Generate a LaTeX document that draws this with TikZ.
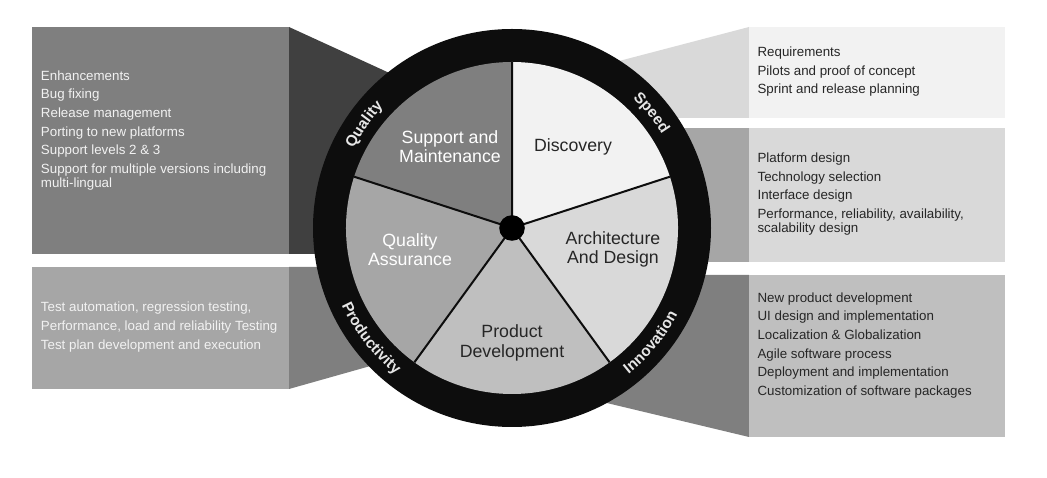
\documentclass[tikz,border=0pt]{standalone}
\usepackage{fontspec}
\setmainfont{Liberation Sans}
\usepackage{tikz}
\usetikzlibrary{decorations.text}
\definecolor{gray25}{HTML}{404040}
\definecolor{gray50}{HTML}{7F7F7F}
\definecolor{gray65}{HTML}{A6A6A6}
\definecolor{gray75}{HTML}{BFBFBF}
\definecolor{gray85}{HTML}{D9D9D9}
\definecolor{gray95}{HTML}{F2F2F2}
\definecolor{ringblack}{HTML}{0D0D0D}
\definecolor{ringgray}{HTML}{E6E6E6}
\definecolor{textdark}{HTML}{262626}
\newcommand{\ringfont}{\bfseries\fontsize{11.5}{13}\selectfont}

\begin{document}
\begin{tikzpicture}[
    x=0.75pt, y=0.75pt,
    lightlist/.style={anchor=west, align=left, inner sep=0pt, text=gray95,
                font=\fontsize{10}{10.7}\selectfont},
    darklist/.style={lightlist, text=textdark},
    seclabel/.style={align=center, inner sep=0pt,
                font=\fontsize{13.3}{14.4}\selectfont},
    divider/.style={draw=ringblack, line width=1.5pt},
    ringlabel/.style={decorate, decoration={text along path, text align=center,
                text color=ringgray, text={|\ringfont|#1}}}
]
\useasboundingbox (0,0) rectangle (1047,478);
\coordinate (C) at (512,250);

% funnels behind the wheel
\fill[gray25] (289,451) -- (420,391) -- (420,224) -- (289,224) -- cycle;
\fill[gray50] (289,211) -- (420,211) -- (420,126) -- (289,89) -- cycle;
\fill[gray85] (749,451) -- (600,412) -- (600,360) -- (749,360) -- cycle;
\fill[gray65] (650,216) rectangle (749,350);
\fill[gray50] (749,203) -- (600,203) -- (590,79) -- (749,41) -- cycle;

% panels
\fill[gray50] (32,224) rectangle (289,451);
\fill[gray65] (32,89) rectangle (289,211);
\fill[gray95] (749,360) rectangle (1005,451);
\fill[gray85] (749,216) rectangle (1005,350);
\fill[gray75] (749,41) rectangle (1005,203);

% wheel
\fill[ringblack] (C) circle[radius=199];
\fill[gray50] (C) -- ++(90:166) arc[start angle=90, end angle=162, radius=166] -- cycle;
\fill[gray65] (C) -- ++(162:166) arc[start angle=162, end angle=234, radius=166] -- cycle;
\fill[gray75] (C) -- ++(234:166) arc[start angle=234, end angle=306, radius=166] -- cycle;
\fill[gray85] (C) -- ++(306:166) arc[start angle=306, end angle=378, radius=166] -- cycle;
\fill[gray95] (C) -- ++(18:166) arc[start angle=18, end angle=90, radius=166] -- cycle;
\draw[divider] (C) -- ++(90:166) (C) -- ++(162:166) (C) -- ++(234:166)
    (C) -- ++(306:166) (C) -- ++(18:166);
\node[circle, fill=black, inner sep=0pt, minimum size=19.2pt] (hub) at (C) {};

% sector labels
\node[seclabel, text=white] (support) at (450,331) {Support and\\Maintenance};
\node[seclabel, text=textdark] (discovery) at (573,331) {Discovery};
\node[seclabel, text=white] (qa) at (410,228.5) {Quality\\Assurance};
\node[seclabel, text=textdark] (arch) at (613,228.5) {Architecture\\And Design};
\node[seclabel, text=textdark] (product) at (512,135) {Product\\Development};

% ring labels
\path[ringlabel=Quality, shift={(C)}] (170:177) arc[start angle=170, end angle=120, radius=177];
\path[ringlabel=Speed, shift={(C)}] (64.5:177) arc[start angle=64.5, end angle=14.5, radius=177];
\path[ringlabel=Innovation, shift={(C)}] (-64.5:187) arc[start angle=-64.5, end angle=-14.5, radius=187];
\path[ringlabel=Productivity, shift={(C)}] (193:187) arc[start angle=193, end angle=243, radius=187];

% lists
\node[lightlist] (qualitylist) at (40.7,347.5) {Enhancements\\[3.3pt]
    Bug fixing\\[3.3pt]
    Release management\\[3.3pt]
    Porting to new platforms\\[3.3pt]
    Support levels 2 \& 3\\[3.3pt]
    Support for multiple versions including\\multi-lingual};
\node[lightlist] (productlist) at (40.7,150.8) {Test automation, regression testing,\\[3.3pt]
    Performance, load and reliability Testing\\[3.3pt]
    Test plan development and execution};
\node[darklist] (speedlist) at (757.3,406.3) {Requirements\\[3.3pt]
    Pilots and proof of concept\\[3.3pt]
    Sprint and release planning};
\node[darklist] (designlist) at (757.3,283.7) {Platform design\\[3.3pt]
    Technology selection\\[3.3pt]
    Interface design\\[3.3pt]
    Performance, reliability, availability,\\scalability design};
\node[darklist] (innovationlist) at (757.3,132.5) {New product development\\[3.3pt]
    UI design and implementation\\[3.3pt]
    Localization \& Globalization\\[3.3pt]
    Agile software process\\[3.3pt]
    Deployment and implementation\\[3.3pt]
    Customization of software packages};
\end{tikzpicture}
\end{document}
